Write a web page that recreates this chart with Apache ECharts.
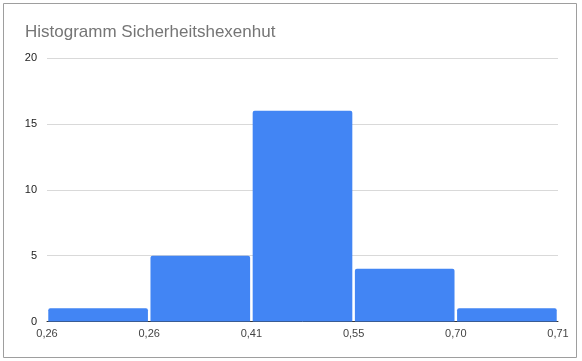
<!DOCTYPE html>
<html>
<head>
<meta charset="utf-8">
<script src="https://cdn.jsdelivr.net/npm/echarts@6/dist/echarts.min.js"></script>
<style>html,body{margin:0;padding:0;background:#fff;}#c{width:582px;height:361px;}</style>
</head>
<body>
<div id="c"></div>
<script>
const titleText = 'Histogramm Sicherheitshexenhut';
const binLabels = ['b1', 'b2', 'b3', 'b4', 'b5'];
const counts = [1, 5, 16, 4, 1];
const edgeLabels = ['0,26', '0,26', '0,41', '0,55', '0,70', '0,71'];
const yTicks = [0, 5, 10, 15, 20];

const chart = echarts.init(document.getElementById('c'), null, {renderer: 'canvas'});
chart.setOption({
  animation: false,
  backgroundColor: '#fff',
  title: {
    text: titleText, left: 20, top: 19,
    textStyle: {fontFamily: 'Liberation Sans, Arial, sans-serif', fontSize: 17, fontWeight: 'normal', color: '#757575'}
  },
  graphic: [{
    type: 'rect', shape: {x: 3.5, y: 3.5, width: 573, height: 354},
    style: {fill: 'none', stroke: '#9e9e9e', lineWidth: 1}, silent: true, z: 100
  }],
  grid: {left: 47, right: 24, top: 58, bottom: 39.5},
  xAxis: [{
    type: 'category', data: binLabels, show: false
  }, {
    type: 'value', min: 0, max: edgeLabels.length - 1, interval: 1, position: 'bottom',
    axisLine: {show: true, onZero: false, lineStyle: {color: '#333', width: 1}},
    axisTick: {show: false}, splitLine: {show: false},
    axisLabel: {
      formatter: v => edgeLabels[Math.round(v)], color: '#444', fontSize: 11,
      fontFamily: 'Liberation Sans, Arial, sans-serif', margin: 7, showMinLabel: true, showMaxLabel: true
    }
  }],
  yAxis: {
    type: 'value', min: yTicks[0], max: yTicks[yTicks.length - 1], interval: 5,
    axisLine: {show: false}, axisTick: {show: false},
    splitLine: {lineStyle: {color: '#d9d9d9', width: 1}},
    axisLabel: {color: '#222', fontSize: 11, fontFamily: 'Liberation Sans, Arial, sans-serif', margin: 10}
  },
  series: [{
    type: 'bar', xAxisIndex: 0, data: counts, barCategoryGap: '2.5%',
    itemStyle: {color: '#4285f4', borderRadius: [2, 2, 0, 0]}
  }]
});
</script>
</body>
</html>
